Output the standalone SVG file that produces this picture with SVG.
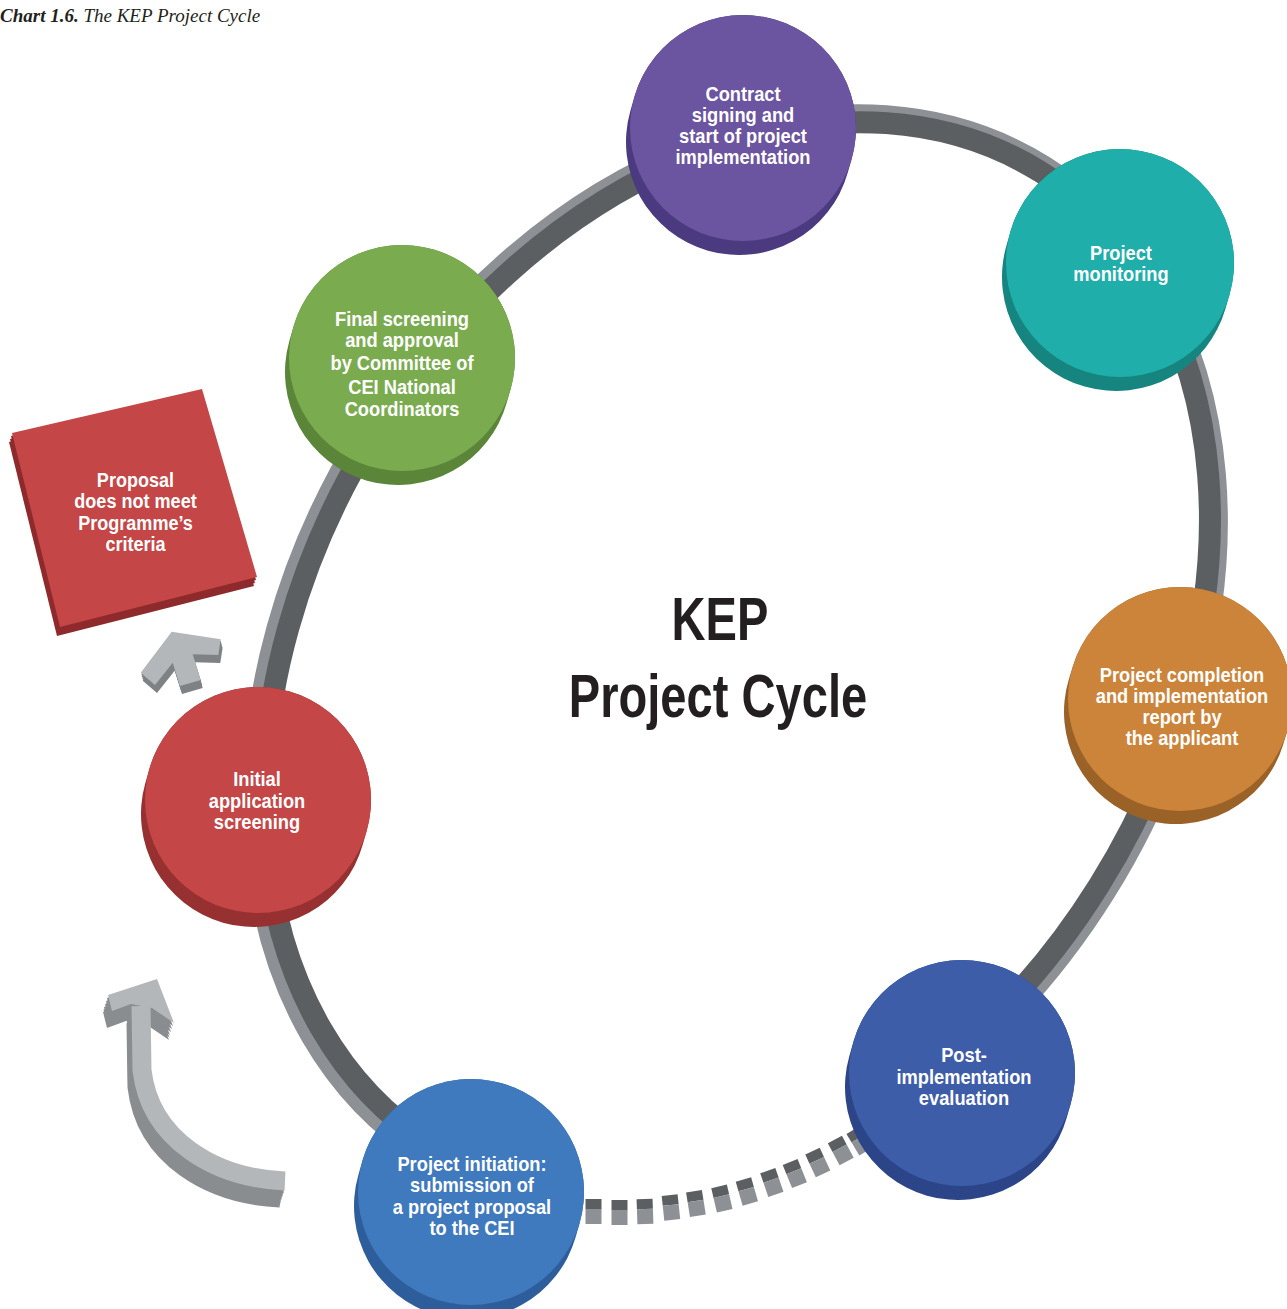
<svg xmlns="http://www.w3.org/2000/svg" xmlns:xlink="http://www.w3.org/1999/xlink" width="1287" height="1309" viewBox="0 0 1287 1309">
<style>
.t{font-family:"Liberation Sans",Arial,sans-serif;font-weight:bold;font-size:21px;fill:#ffffff;text-anchor:middle}
.title{font-family:"Liberation Sans",Arial,sans-serif;font-weight:bold;font-size:62px;fill:#231f20;text-anchor:middle}
.cap{font-family:"Liberation Serif",serif;font-style:italic;font-size:19px;fill:#231f20}
.bt{fill:#5c5f62}
.bf{fill:#8d9094}
</style>
<defs>
<clipPath id="ringclip">
<polygon points="739,659 1185,1487 1400,1700 1400,-100 -100,-100 -100,1800 203,1725"/>
</clipPath>
<g id="blk"><rect class="bt" x="-8" y="-13" width="16" height="10"/><rect class="bf" x="-8" y="-3" width="16" height="15"/></g>
<g id="ca"><path d="M285 1181 C215 1178 150 1140 142 1070 L141 1006" fill="none" stroke-width="19"/><polygon points="108,995 157,979 174,1023 152,1008 131,1004 112,1011" stroke="none"/></g>
<polygon id="sa" points="171.7,631.7 220.7,639.3 218.3,655 192.7,654.3 200.7,680 180,686 172.7,662.7 155,685 140.7,672.7"/>
<polygon id="sq" points="12,433 202,389 257,577 60,627"/>
</defs>

<text class="cap" x="0" y="22"><tspan font-weight="bold">Chart 1.6.</tspan>  The KEP Project Cycle</text>

<g id="connectors">
<g clip-path="url(#ringclip)">
<ellipse cx="735" cy="661" rx="583" ry="436" transform="rotate(-58 735 661)" fill="none" stroke="#8d9094" stroke-width="22"/>
<ellipse cx="737" cy="659" rx="574" ry="427" transform="rotate(-58 737 659)" fill="none" stroke="#5c5f62" stroke-width="22"/>
</g>
<g id="blocks">
<use xlink:href="#blk" transform="translate(593.5,1212)"/>
<use xlink:href="#blk" transform="translate(619.5,1213)"/>
<use xlink:href="#blk" transform="translate(645,1212) rotate(-2)"/>
<use xlink:href="#blk" transform="translate(671,1208) rotate(-6)"/>
<use xlink:href="#blk" transform="translate(696,1204) rotate(-9)"/>
<use xlink:href="#blk" transform="translate(722,1199) rotate(-13)"/>
<use xlink:href="#blk" transform="translate(747,1192) rotate(-16)"/>
<use xlink:href="#blk" transform="translate(772,1183) rotate(-19)"/>
<use xlink:href="#blk" transform="translate(795,1174) rotate(-22)"/>
<use xlink:href="#blk" transform="translate(818,1163) rotate(-25)"/>
<use xlink:href="#blk" transform="translate(841,1151) rotate(-28)"/>
<use xlink:href="#blk" transform="translate(860,1141) rotate(-31)"/>
</g>
<g id="curved-arrow">
<use xlink:href="#ca" fill="#8a8d90" stroke="#8a8d90" transform="translate(-1,3)"/>
<use xlink:href="#ca" fill="#8a8d90" stroke="#8a8d90" transform="translate(-2,6)"/>
<use xlink:href="#ca" fill="#8a8d90" stroke="#8a8d90" transform="translate(-3,9)"/>
<use xlink:href="#ca" fill="#8a8d90" stroke="#8a8d90" transform="translate(-4,12)"/>
<use xlink:href="#ca" fill="#8a8d90" stroke="#8a8d90" transform="translate(-4.5,14.5)"/>
<use xlink:href="#ca" fill="#8a8d90" stroke="#8a8d90" transform="translate(-5,17)"/>
<use xlink:href="#ca" fill="#b4b7ba" stroke="#b4b7ba"/>
</g>
<g id="small-arrow">
<use xlink:href="#sa" fill="#7f8285" transform="translate(0.5,2)"/>
<use xlink:href="#sa" fill="#7f8285" transform="translate(1,4)"/>
<use xlink:href="#sa" fill="#7f8285" transform="translate(1.5,6)"/>
<use xlink:href="#sa" fill="#7f8285" transform="translate(2,8)"/>
<use xlink:href="#sa" fill="#b4b7ba"/>
</g>
</g>

<g id="node-rejected">
<use xlink:href="#sq" fill="#8e2a2c" transform="translate(-1,3)"/>
<use xlink:href="#sq" fill="#8e2a2c" transform="translate(-2,6)"/>
<use xlink:href="#sq" fill="#8e2a2c" transform="translate(-3,9)"/>
<use xlink:href="#sq" fill="#c44646"/>
<text class="t" transform="translate(135.5,0) scale(0.86,1)"><tspan x="0" y="487">Proposal</tspan><tspan x="0" y="508">does not meet</tspan><tspan x="0" y="530">Programme’s</tspan><tspan x="0" y="551">criteria</tspan></text>
</g>

<g id="node-contract">
<line x1="743" y1="128" x2="739" y2="142" stroke="#4b3a7f" stroke-width="226" stroke-linecap="round"/>
<circle cx="743" cy="128" r="113" fill="#6b54a0"/>
<text class="t" transform="translate(743,0) scale(0.87,1)"><tspan x="0" y="101">Contract</tspan><tspan x="0" y="122">signing and</tspan><tspan x="0" y="143">start of project</tspan><tspan x="0" y="164">implementation</tspan></text>
</g>

<g id="node-monitoring">
<line x1="1120" y1="263" x2="1116" y2="277" stroke="#16847f" stroke-width="228" stroke-linecap="round"/>
<circle cx="1120" cy="263" r="114" fill="#1faea9"/>
<text class="t" transform="translate(1121,0) scale(0.87,1)"><tspan x="0" y="260">Project</tspan><tspan x="0" y="281">monitoring</tspan></text>
</g>

<g id="node-completion">
<line x1="1180" y1="699" x2="1176" y2="712" stroke="#9b6228" stroke-width="224" stroke-linecap="round"/>
<circle cx="1180" cy="699" r="112" fill="#cc843a"/>
<text class="t" transform="translate(1182,0) scale(0.87,1)"><tspan x="0" y="682">Project completion</tspan><tspan x="0" y="703">and implementation</tspan><tspan x="0" y="724">report by</tspan><tspan x="0" y="745">the applicant</tspan></text>
</g>

<g id="node-post">
<line x1="962" y1="1073" x2="958" y2="1087" stroke="#2c4488" stroke-width="226" stroke-linecap="round"/>
<circle cx="962" cy="1073" r="113" fill="#3e5da9"/>
<text class="t" transform="translate(964,0) scale(0.87,1)"><tspan x="0" y="1062">Post-</tspan><tspan x="0" y="1084">implementation</tspan><tspan x="0" y="1105">evaluation</tspan></text>
</g>

<g id="node-initiation">
<line x1="471" y1="1192" x2="467" y2="1206" stroke="#2d5d9b" stroke-width="226" stroke-linecap="round"/>
<circle cx="471" cy="1192" r="113" fill="#3f79be"/>
<text class="t" transform="translate(472,0) scale(0.87,1)"><tspan x="0" y="1171">Project initiation:</tspan><tspan x="0" y="1192">submission of</tspan><tspan x="0" y="1214">a project proposal</tspan><tspan x="0" y="1235">to the CEI</tspan></text>
</g>

<g id="node-initial">
<line x1="258" y1="800" x2="254" y2="814" stroke="#973030" stroke-width="226" stroke-linecap="round"/>
<circle cx="258" cy="800" r="113" fill="#c44646"/>
<text class="t" transform="translate(257,0) scale(0.87,1)"><tspan x="0" y="786">Initial</tspan><tspan x="0" y="808">application</tspan><tspan x="0" y="829">screening</tspan></text>
</g>

<g id="node-final">
<line x1="402" y1="358" x2="398" y2="372" stroke="#5b8538" stroke-width="226" stroke-linecap="round"/>
<circle cx="402" cy="358" r="113" fill="#7aac4f"/>
<text class="t" transform="translate(402,0) scale(0.87,1)"><tspan x="0" y="326">Final screening</tspan><tspan x="0" y="347">and approval</tspan><tspan x="0" y="370">by Committee of</tspan><tspan x="0" y="394">CEI National</tspan><tspan x="0" y="416">Coordinators</tspan></text>
</g>

<g id="title">
<text class="title" transform="translate(720,0) scale(0.76,1)" x="0" y="640">KEP</text>
<text class="title" transform="translate(718,0) scale(0.76,1)" x="0" y="717">Project Cycle</text>
</g>
</svg>
